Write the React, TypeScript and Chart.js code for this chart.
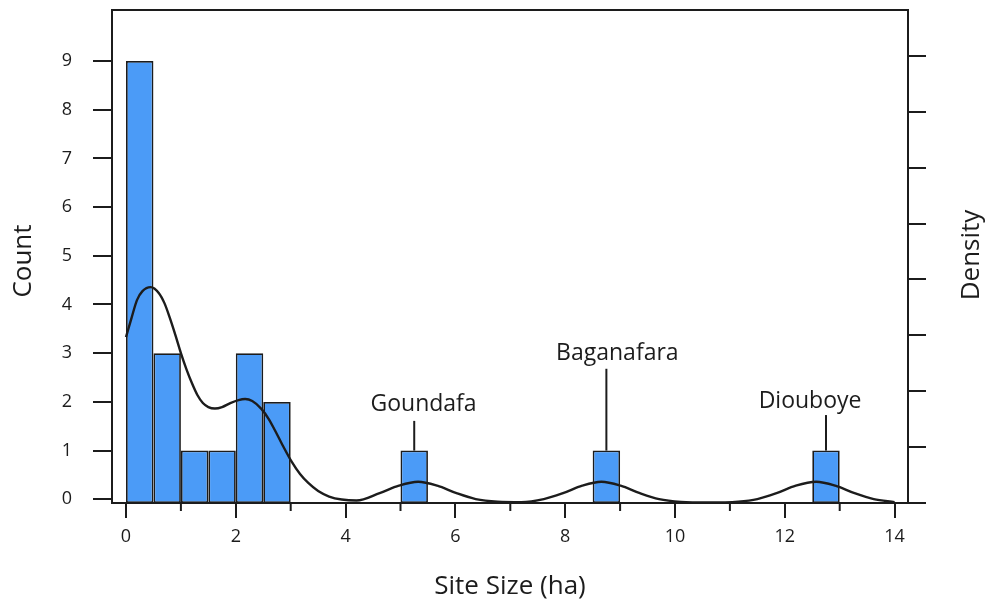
import React, { useEffect, useRef } from 'react';
import { Chart, registerables } from 'chart.js';

Chart.register(...registerables);

// ---------- data ----------
const binStarts = [0, 0.5, 1, 1.5, 2, 2.5, 5, 8.5, 12.5];
const binWidth = 0.5;
const counts = [9, 3, 1, 1, 3, 2, 1, 1, 1];

const densityX = [0.0, 0.1, 0.2, 0.3, 0.45, 0.6, 0.7, 0.8, 0.9, 1.0, 1.1, 1.2, 1.3, 1.4, 1.5, 1.62, 1.75, 1.9, 2.05, 2.17, 2.3, 2.47, 2.6, 2.71, 2.85, 3.02, 3.17, 3.32, 3.5, 3.7, 3.93, 4.2, 4.62, 4.97, 5.32, 5.67, 6.02, 6.37, 6.77, 7.2, 7.61, 7.96, 8.31, 8.66, 9.01, 9.36, 9.71, 10.11, 10.6, 11.15, 11.5, 11.85, 12.2, 12.57, 12.92, 13.27, 13.62, 14.0];
const densityY = [0.1484, 0.1654, 0.1815, 0.1895, 0.1931, 0.1877, 0.1788, 0.1654, 0.1502, 0.1341, 0.1198, 0.1073, 0.0966, 0.0894, 0.0858, 0.0845, 0.0858, 0.0894, 0.0921, 0.093, 0.0912, 0.084, 0.0751, 0.0653, 0.0519, 0.0367, 0.0259, 0.0179, 0.0107, 0.0058, 0.0031, 0.0022, 0.0088, 0.0155, 0.019, 0.0155, 0.0088, 0.0035, 0.0012, 0.0008, 0.0035, 0.0088, 0.0155, 0.019, 0.0155, 0.0088, 0.0035, 0.001, 0.0004, 0.0012, 0.0035, 0.0088, 0.0155, 0.019, 0.0155, 0.0088, 0.0035, 0.0008];

const countTicks = [0, 1, 2, 3, 4, 5, 6, 7, 8, 9];
const densityTicks = [0, 0.05, 0.1, 0.15, 0.2, 0.25, 0.3, 0.35, 0.4];
const xMajorTicks = [0, 2, 4, 6, 8, 10, 12, 14];
const xMinorTicks = [1, 3, 5, 7, 9, 11, 13];

const siteNames = ['Goundafa', 'Baganafara', 'Diouboye'];
const siteBinCenter = [5.25, 8.75, 12.75];
const siteCount = [1, 1, 1];

// annotation placement (data units)
const siteLineTop = [1.61, 2.68, 1.73];
const siteLabelX = [5.42, 8.95, 12.46];
const siteLabelY = [1.95, 3.0, 2.0];

// ---------- style ----------
const FONT = '"Open Sans", "Noto Sans", sans-serif';
const INK = '#1c1c1c';
const BAR = '#4b9bf7';
const X_MIN = -0.255;
const X_MAX = 14.244;
const Y_MIN = -0.076;
const Y_MAX = 10.047;
const D_MAX = 0.441;

const zeroPad = (s: any) => {
  s.paddingTop = 0;
  s.paddingBottom = 0;
  s.paddingLeft = 0;
  s.paddingRight = 0;
};

const drawVerticalTitle = (ctx: any, text: string, x: number, y: number) => {
  ctx.save();
  ctx.translate(x, y);
  ctx.rotate(-Math.PI / 2);
  ctx.font = `26px ${FONT}`;
  ctx.fillStyle = INK;
  ctx.textAlign = 'center';
  ctx.textBaseline = 'middle';
  ctx.fillText(text, 0, 0);
  ctx.restore();
};

const extrasPlugin = {
  id: 'extras',
  afterDatasetsDraw(chart: any) {
    const { ctx, chartArea: a, scales } = chart;
    const xs = scales.x;
    const ys = scales.y;
    ctx.save();
    ctx.strokeStyle = INK;
    ctx.fillStyle = INK;
    ctx.lineWidth = 2;
    // annotation leader lines and labels
    siteNames.forEach((name, i) => {
      const px = xs.getPixelForValue(siteBinCenter[i]);
      ctx.beginPath();
      ctx.moveTo(px, ys.getPixelForValue(siteCount[i]));
      ctx.lineTo(px, ys.getPixelForValue(siteLineTop[i]));
      ctx.stroke();
      ctx.font = `23px ${FONT}`;
      ctx.textAlign = 'center';
      ctx.textBaseline = 'middle';
      ctx.fillText(name, xs.getPixelForValue(siteLabelX[i]), ys.getPixelForValue(siteLabelY[i]));
    });
    // frame
    ctx.strokeRect(a.left, a.top, a.right - a.left, a.bottom - a.top);
    // minor x ticks
    ctx.beginPath();
    xMinorTicks.forEach((v) => {
      const px = xs.getPixelForValue(v);
      ctx.moveTo(px, a.bottom);
      ctx.lineTo(px, a.bottom + 8);
    });
    ctx.stroke();
    ctx.restore();
    // side titles (both read bottom-to-top)
    drawVerticalTitle(ctx, 'Count', 24, 261);
    drawVerticalTitle(ctx, 'Density', chart.width - 17, 255);
  },
};

export default function App() {
  const canvasRef = useRef<HTMLCanvasElement | null>(null);

  useEffect(() => {
    document.body.style.margin = '0';
    document.body.style.overflow = 'hidden';
    const canvas = canvasRef.current;
    if (!canvas) return;

    const barData = binStarts.map((s, i) => ({ x: s + binWidth / 2, y: counts[i] }));
    const lineData = densityX.map((x, i) => ({ x, y: densityY[i] }));

    const chart = new Chart(canvas, {
      type: 'bar',
      data: {
        datasets: [
          {
            type: 'line',
            label: 'Density',
            data: lineData,
            xAxisID: 'x',
            yAxisID: 'yd',
            borderColor: INK,
            borderWidth: 2.4,
            pointRadius: 0,
            fill: false,
            cubicInterpolationMode: 'monotone',
          } as any,
          {
            type: 'bar',
            label: 'Count',
            data: barData,
            xAxisID: 'x',
            yAxisID: 'y',
            backgroundColor: BAR,
            borderColor: INK,
            borderWidth: 1.75,
            borderSkipped: false,
            inflateAmount: 0,
            base: Y_MIN,
            barPercentage: 1,
            categoryPercentage: 1,
          } as any,
        ],
      },
      options: {
        animation: false,
        responsive: true,
        maintainAspectRatio: false,
        devicePixelRatio: 1,
        layout: { padding: { top: 10, left: 0, right: 0, bottom: 0 } },
        plugins: {
          legend: { display: false },
          tooltip: { enabled: false },
        },
        scales: {
          x: {
            type: 'linear',
            position: 'bottom',
            offset: false,
            min: X_MIN,
            max: X_MAX,
            afterBuildTicks: (s: any) => {
              s.ticks = xMajorTicks.map((v) => ({ value: v }));
            },
            afterFit: (s: any) => {
              s.height = 102;
              zeroPad(s);
            },
            border: { display: false },
            grid: {
              offset: false,
              drawOnChartArea: false,
              drawTicks: true,
              tickLength: 15,
              tickColor: INK,
              tickWidth: 2,
              color: INK,
              lineWidth: 2,
            },
            ticks: {
              color: INK,
              font: { family: FONT, size: 18 },
              padding: 8,
              maxRotation: 0,
            },
            title: {
              display: true,
              text: 'Site Size (ha)',
              color: INK,
              font: { family: FONT, size: 26 },
              padding: { top: 0, bottom: 3 },
            },
          },
          y: {
            type: 'linear',
            position: 'left',
            min: Y_MIN,
            max: Y_MAX,
            afterBuildTicks: (s: any) => {
              s.ticks = countTicks.map((v) => ({ value: v }));
            },
            afterFit: (s: any) => {
              s.width = 112;
              zeroPad(s);
            },
            border: { display: false },
            grid: {
              drawOnChartArea: false,
              drawTicks: true,
              tickLength: 19,
              tickColor: INK,
              tickWidth: 2,
              color: INK,
              lineWidth: 2,
            },
            ticks: {
              color: INK,
              font: { family: FONT, size: 18 },
              padding: 21,
            },
            title: { display: false },
          },
          yd: {
            type: 'linear',
            position: 'right',
            min: 0,
            max: D_MAX,
            afterBuildTicks: (s: any) => {
              s.ticks = densityTicks.map((v) => ({ value: v }));
            },
            afterFit: (s: any) => {
              s.width = 81;
              zeroPad(s);
            },
            border: { display: false },
            grid: {
              drawOnChartArea: false,
              drawTicks: true,
              tickLength: 18,
              tickColor: INK,
              tickWidth: 2,
              color: INK,
              lineWidth: 2,
            },
            ticks: { display: false },
            title: { display: false },
          },
        },
      } as any,
      plugins: [extrasPlugin],
    });

    return () => chart.destroy();
  }, []);

  return (
    <div style={{ position: 'relative', width: 989, height: 605 }}>
      <canvas ref={canvasRef} />
    </div>
  );
}
